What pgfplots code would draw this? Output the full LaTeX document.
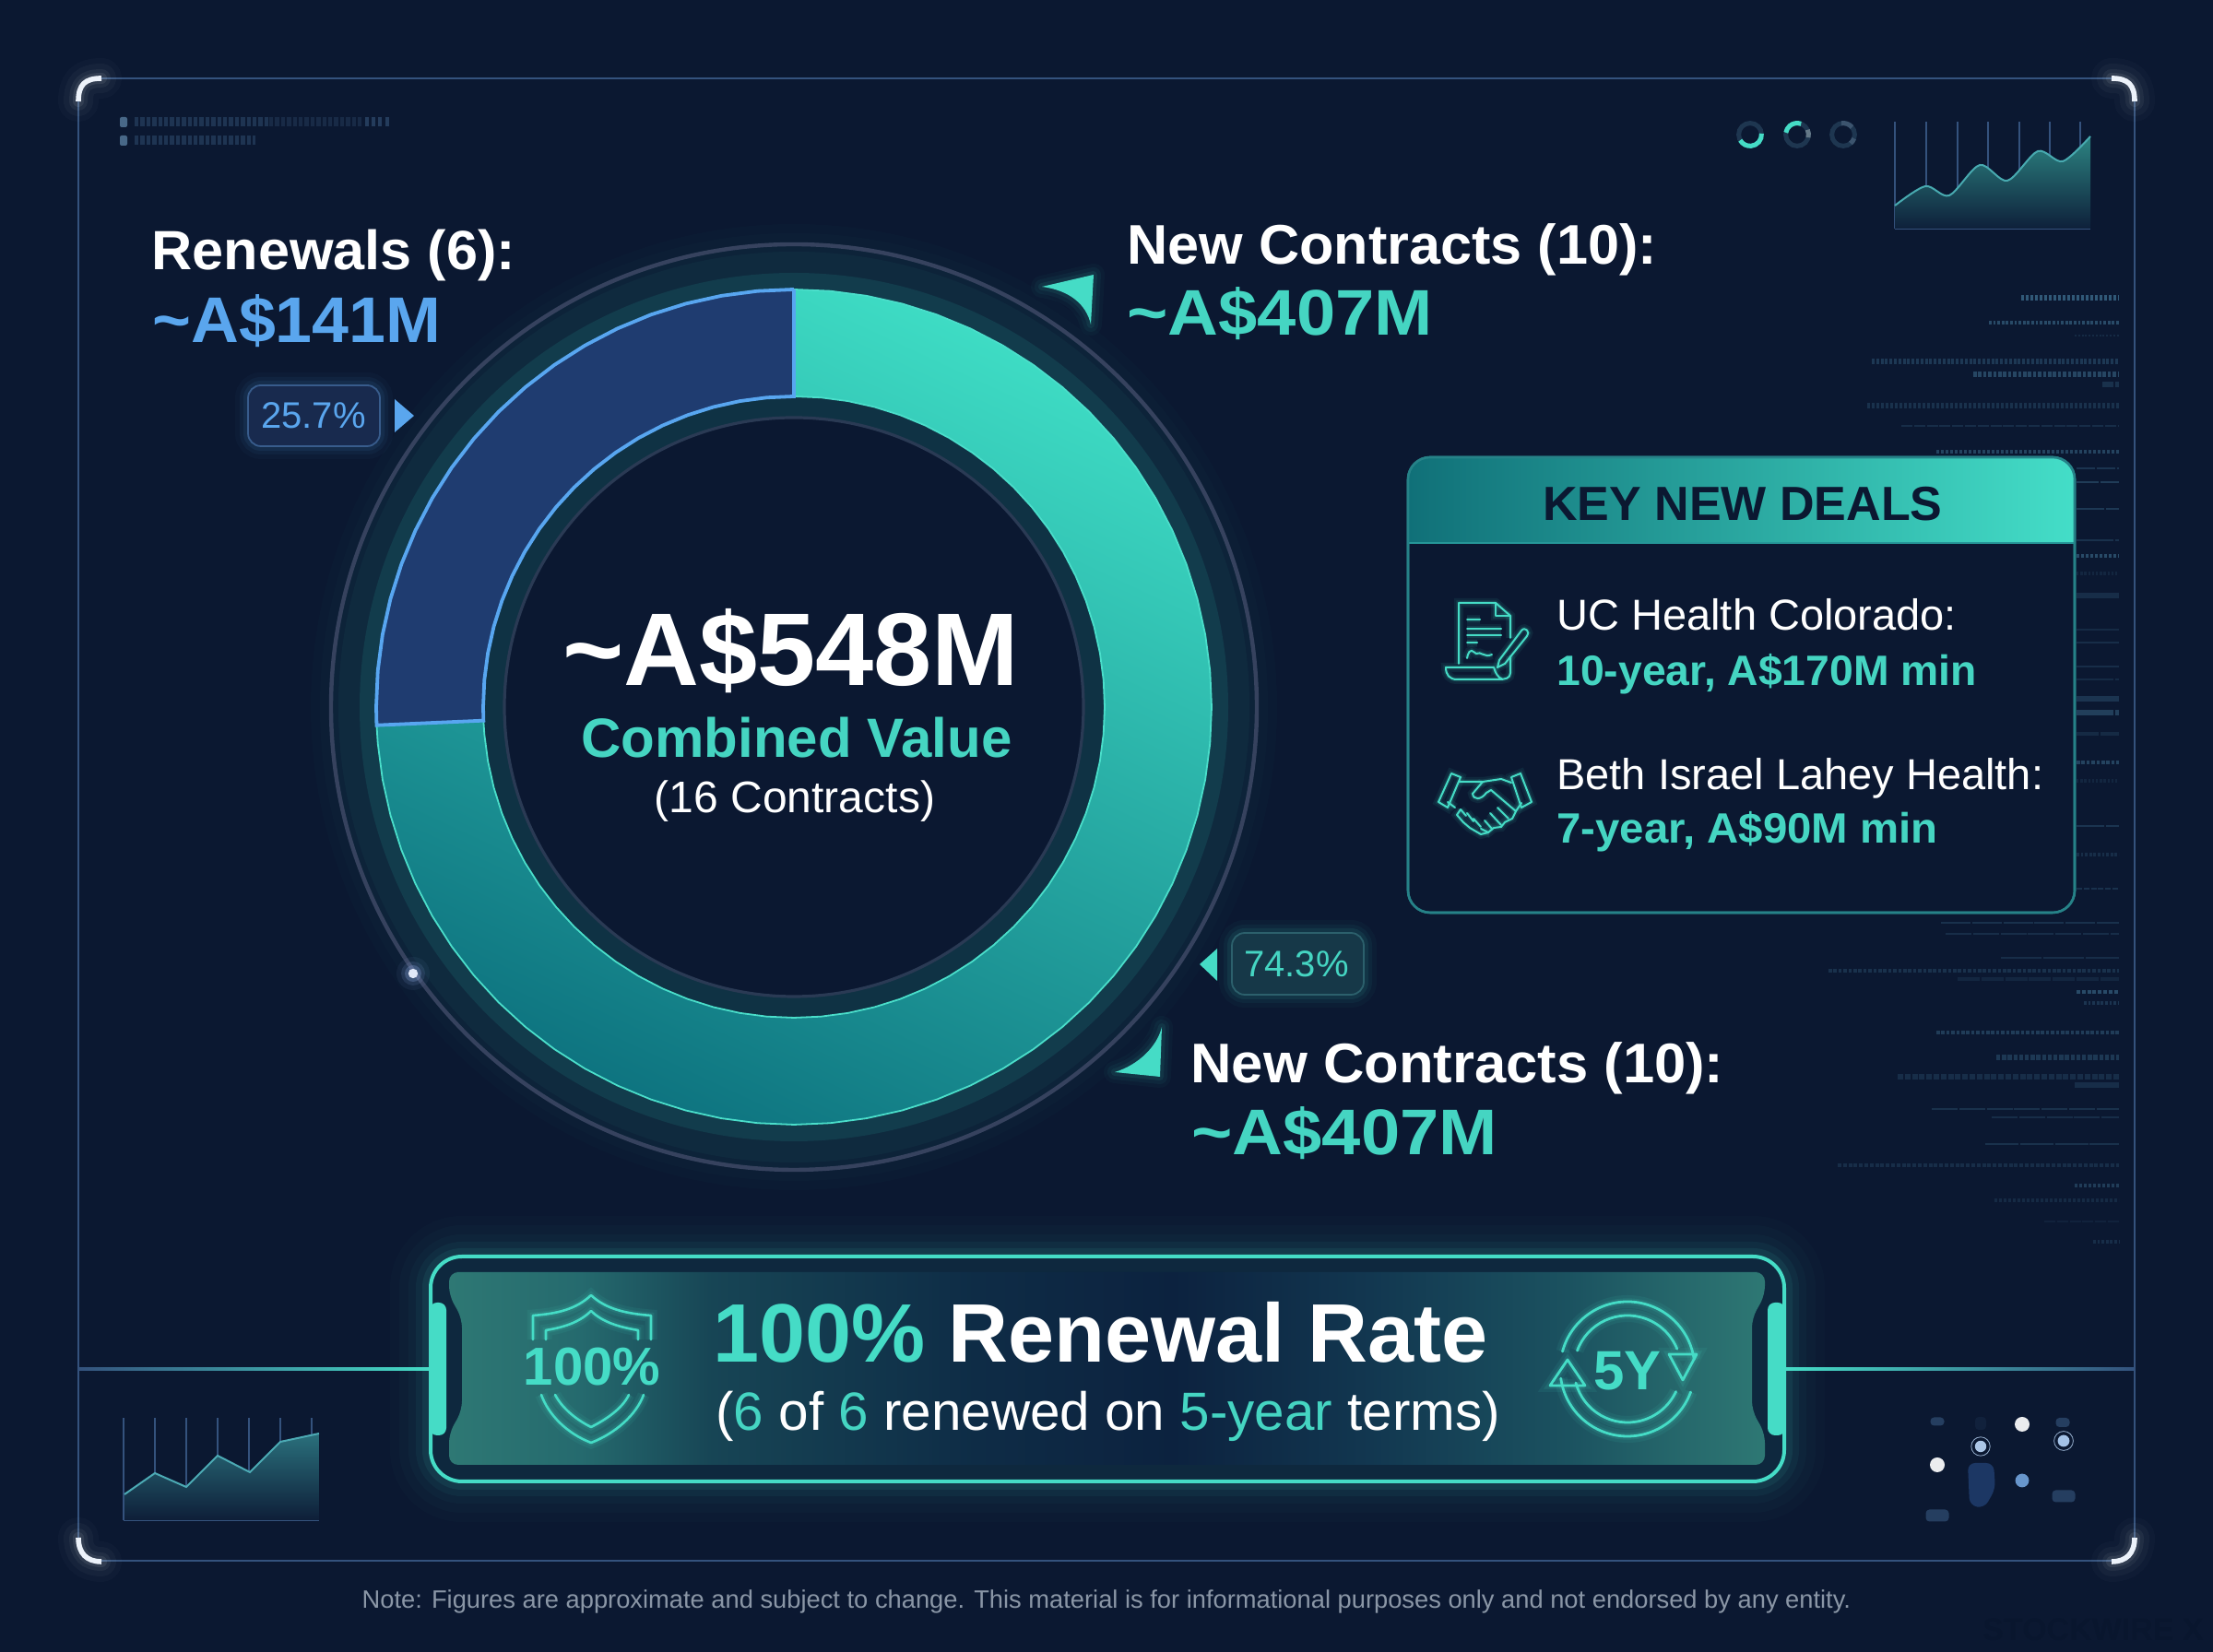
\documentclass[border=0pt]{standalone}
\usepackage{fontspec}
\setmainfont{Liberation Sans}
\usepackage{pgfplots}
\pgfplotsset{compat=1.18}
\definecolor{bg}{HTML}{0B1831}
\definecolor{tealA}{HTML}{45DCC6}
\definecolor{tealT}{HTML}{45D5C2}
\definecolor{blueT}{HTML}{5AA6EE}
\definecolor{frameC}{HTML}{34527D}
\definecolor{noiseC}{HTML}{35607F}
\definecolor{bA}{HTML}{2E7874}
\definecolor{bB}{HTML}{256A6E}
\definecolor{bC}{HTML}{174555}
\definecolor{bD}{HTML}{0E2C46}
\definecolor{bE}{HTML}{0C223F}
\definecolor{bF}{HTML}{123750}
\definecolor{bG}{HTML}{1B5260}
\pgfdeclarehorizontalshading{bannerfill}{100bp}{color(0bp)=(bA);color(25bp)=(bA);color(30bp)=(bB);color(35bp)=(bC);color(45bp)=(bD);color(52.5bp)=(bE);color(60bp)=(bF);color(67.5bp)=(bG);color(75bp)=(bA);color(100bp)=(bA)}
\newcommand{\TX}[6]{\node[anchor=base #4,inner sep=0pt,text=#5,font=\fontsize{#3pt}{#3pt}\selectfont] at (#1,#2) {#6};}
\tikzset{neon/.style={draw=tealA,line width=#1,line join=round,line cap=round,
  preaction={draw=tealA,line width=#1*5,opacity=.08},
  preaction={draw=tealA,line width=#1*2.6,opacity=.12}}}
\begin{document}
\begin{tikzpicture}
\path[use as bounding box] (0,0) rectangle (1200pt,896pt);
\fill[bg] (0,0) rectangle (1200pt,896pt);
\begin{scope}[x=.5pt,y=-.5pt,yshift=896pt]
% rings around the donut
\foreach \w/\o in {44/.015,34/.02,24/.03,14/.04}
  \draw[tealA,opacity=\o,line width=\w pt] (861,767) circle[radius=240pt];
\draw[color={rgb,255:red,54;green,66;blue,94},line width=2.2pt] (861,767) circle[radius=251pt];
\draw[color={rgb,255:red,18;green,60;blue,76},line width=9pt] (861,767) circle[radius=231pt];
\draw[color={rgb,255:red,15;green,50;blue,68},line width=11pt] (861,767) circle[radius=162.5pt];
\draw[color={rgb,255:red,42;green,58;blue,84},line width=1.6pt] (861,767) circle[radius=157pt];
\end{scope}
% donut: 25.7 % renewals, 74.3 % new contracts, drawn in polar data coordinates
\begin{axis}[at={(0pt,0pt)},anchor=south west,scale only axis,width=1200pt,height=896pt,
  xmin=-861,xmax=1539,ymin=-1025,ymax=767,hide axis,clip=false]
\addplot[data cs=polar,draw={rgb,255:red,74;green,222;blue,202},line width=.9pt,
  shading=axis,top color={rgb,255:red,62;green,220;blue,196},middle color={rgb,255:red,38;green,186;blue,176},bottom color={rgb,255:red,14;green,116;blue,128},shading angle=-25]
coordinates {(90,453)(85,453)(80,453)(75,453)(70,453)(65,453)(60,453)(55,453)(50,453)(45,453)(40,453)(35,453)(30,453)(25,453)(20,453)(15,453)(10,453)(5,453)(0,453)(-5,453)(-10,453)(-15,453)(-20,453)(-25,453)(-30,453)(-35,453)(-40,453)(-45,453)(-50,453)(-55,453)(-60,453)(-65,453)(-70,453)(-75,453)(-80,453)(-85,453)(-90,453)(-95,453)(-100,453)(-105,453)(-110,453)(-115,453)(-120,453)(-125,453)(-130,453)(-135,453)(-140,453)(-145,453)(-150,453)(-155,453)(-160,453)(-165,453)(-170,453)(-175,453)(-177.5,453)
(-177.5,337)(-175,337)(-170,337)(-165,337)(-160,337)(-155,337)(-150,337)(-145,337)(-140,337)(-135,337)(-130,337)(-125,337)(-120,337)(-115,337)(-110,337)(-105,337)(-100,337)(-95,337)(-90,337)(-85,337)(-80,337)(-75,337)(-70,337)(-65,337)(-60,337)(-55,337)(-50,337)(-45,337)(-40,337)(-35,337)(-30,337)(-25,337)(-20,337)(-15,337)(-10,337)(-5,337)(0,337)(5,337)(10,337)(15,337)(20,337)(25,337)(30,337)(35,337)(40,337)(45,337)(50,337)(55,337)(60,337)(65,337)(70,337)(75,337)(80,337)(85,337)(90,337)(90,453)};
\addplot[data cs=polar,draw={rgb,255:red,88;green,166;blue,240},line width=1.9pt,
  fill={rgb,255:red,31;green,60;blue,112}]
coordinates {(90,453)(95,453)(100,453)(105,453)(110,453)(115,453)(120,453)(125,453)(130,453)(135,453)(140,453)(145,453)(150,453)(155,453)(160,453)(165,453)(170,453)(175,453)(180,453)(182.5,453)
(182.5,337)(180,337)(175,337)(170,337)(165,337)(160,337)(155,337)(150,337)(145,337)(140,337)(135,337)(130,337)(125,337)(120,337)(115,337)(110,337)(105,337)(100,337)(95,337)(90,337)(90,453)};
\end{axis}
\begin{scope}[x=.5pt,y=-.5pt,yshift=896pt]
% frame
\draw[frameC,line width=1.3pt] (110,85) -- (2290,85);
\draw[frameC,line width=1.3pt] (85,110) -- (85,1668);
\draw[frameC,line width=1.3pt] (2315,110) -- (2315,1668);
\draw[frameC,line width=1.3pt] (110,1693) -- (2290,1693);
\shade[left color=frameC,middle color=frameC,right color=tealA] (85,1483.5) rectangle (467,1486.5);
\shade[left color=tealA,middle color=frameC,right color=frameC] (1935,1483.5) rectangle (2315,1486.5);
\foreach \a/\b/\c/\d/\e/\f/\g/\h in {85/110/85/92/92/85/110/85, 2315/110/2315/92/2308/85/2290/85, 85/1668/85/1685/94/1694/110/1694, 2315/1668/2315/1685/2306/1694/2290/1694}{
  \foreach \w/\o in {22/.02,16/.03,10/.05,6/.08}
    \draw[white,opacity=\o,line width=\w pt,line cap=round] (\a,\b) .. controls (\c,\d) and (\e,\f) .. (\g,\h);
  \draw[color={rgb,255:red,236;green,242;blue,250},line width=2.8pt] (\a,\b) .. controls (\c,\d) and (\e,\f) .. (\g,\h);
}
% top left dashes
\fill[color={rgb,255:red,72;green,104;blue,136},rounded corners=1pt] (130,127) rectangle (138,138);
\fill[color={rgb,255:red,72;green,104;blue,136},rounded corners=1pt] (130,147) rectangle (138,158);
\draw[color={rgb,255:red,30;green,52;blue,82},line width=5pt,dash pattern=on 2.2pt off 1pt] (146,132) -- (292,132);
\draw[color={rgb,255:red,24;green,42;blue,70},line width=5pt,dash pattern=on 2.2pt off 1pt] (292,132) -- (392,132);
\draw[color={rgb,255:red,36;green,60;blue,92},line width=5pt,dash pattern=on 2pt off 1.6pt] (396,132) -- (423,132);
\draw[color={rgb,255:red,30;green,52;blue,82},line width=5pt,dash pattern=on 2.2pt off 1pt] (146,152) -- (277,152);
% small rings
\foreach \x in {1898,1949,1999}
  \draw[color={rgb,255:red,30;green,54;blue,80},line width=2.5pt] (\x,146) circle[radius=6.2pt];
\begin{scope}[shift={(1898,146)}]\draw[tealA,line width=2.5pt] (5:6.2pt) arc (5:-150:6.2pt);\end{scope}
\begin{scope}[shift={(1949,146)}]\draw[tealA,line width=2.5pt] (70:6.2pt) arc (70:170:6.2pt);
\draw[color={rgb,255:red,100;green,120;blue,135},line width=2.5pt] (25:6.2pt) arc (25:-15:6.2pt);\end{scope}
\begin{scope}[shift={(1999,146)}]\draw[color={rgb,255:red,60;green,84;blue,110},line width=2.5pt] (100:6.2pt) arc (100:40:6.2pt);\draw[color={rgb,255:red,60;green,84;blue,110},line width=2.5pt] (-20:6.2pt) arc (-20:-50:6.2pt);\end{scope}
% right side data noise
\foreach \y/\a/\o/\d/\w in {323/2192/.9/1.6/3,350/2157/.7/1.4/2.5,364/2250/.25/1/1.5,392/2030/.45/1.5/3,406/2140/.65/1.8/3.5,417/2280/.35/6/4,440/2025/.35/1.6/3,462/2062/.3/6/1.5,490/2100/.6/1.6/2.5,508/2252/.4/10/1,523/2252/.5/12/1,552/2252/.45/15/1,586/2252/.35/20/1.5,603/2252/.7/1.6/2.5,622/2252/.2/1.2/2,646/2252/.3/25/3,683/2252/.25/30/1,697/2252/.3/25/1.5,723/2252/.3/30/1,737/2252/.25/20/1.5,758/2252/.4/25/3,773/2252/.55/20/3,796/2252/.25/12/2,827/2252/.6/1.8/2.5,847/2252/.2/1.2/2,896/2252/.4/15/1,927/2252/.3/1.4/2.5,964/2252/.35/3/1.5,1001/2105/.35/16/1.5,1013/2110/.3/14/1.5,1039/2170/.3/22/1,1053/1983/.35/1.8/2.5,1062/2123/.2/12/2.5,1076/2252/.7/2/2.5,1088/2260/.4/1.4/2,1120/2100/.5/1.8/2.5,1147/2165/.45/2.2/3,1168/2058/.3/3/3,1177/2250/.3/24/3,1203/2095/.35/14/1.5,1212/2160/.3/14/1.5,1241/2153/.35/18/1,1264/1993/.3/2/2.5,1286/2250/.5/1.6/2.5,1302/2163/.25/1.6/2,1325/2217/.15/6/1,1347/2270/.3/1.4/2}
  \draw[noiseC,opacity=\o,line width=\w*.85pt,dash pattern=on \d pt off .9pt] (\a,\y) -- (2298,\y);
% panel
\draw[rounded corners=12pt,draw={rgb,255:red,38;green,122;blue,130},line width=1.3pt,fill=bg] (1527,496) rectangle (2250,990);
\begin{scope}
\clip[rounded corners=12pt] (1527,496) rectangle (2250,990);
\shade[left color={rgb,255:red,16;green,112;blue,120},middle color={rgb,255:red,32;green,160;blue,158},right color={rgb,255:red,68;green,222;blue,200}] (1527,496) rectangle (2250,589);
\draw[color={rgb,255:red,38;green,150;blue,152},line width=1.4pt] (1527,589) -- (2250,589);
\end{scope}
\draw[rounded corners=12pt,draw={rgb,255:red,38;green,130;blue,136},line width=1.3pt] (1527,496) rectangle (2250,990);
\TX{1890}{565}{26}{}{bg}{\bfseries KEY NEW DEALS}
\TX{1688}{684}{23.5}{west}{white}{UC Health Colorado:}
\TX{1688}{744}{23}{west}{tealT}{\scalebox{1.007}[1]{\bfseries 10-year, A\$170M min}}
\TX{1688}{857}{23.5}{west}{white}{Beth Israel Lahey Health:}
\TX{1688}{915}{23}{west}{tealT}{\scalebox{1.03}[1]{\bfseries 7-year, A\$90M min}}
% document icon
\draw[neon=1pt] (1582,720) -- (1582,654) -- (1622,654) -- (1638,668) -- (1638,692);
\draw[neon=1pt] (1622,654) -- (1622,668) -- (1638,668);
\draw[neon=1pt] (1591,672) -- (1605,672) (1591,682) -- (1628,682) (1591,689) -- (1628,689) (1591,697) -- (1602,697);
\draw[neon=1pt] (1591,714) .. controls (1594,700) and (1598,708) .. (1601,709) .. controls (1606,706) and (1610,714) .. (1618,710);
\draw[neon=1pt] (1638,712) -- (1638,730) .. controls (1638,736) and (1632,737) .. (1625,737) -- (1580,737) .. controls (1572,737) and (1568,732) .. (1568,724) -- (1620,724) .. controls (1622,730) and (1624,735) .. (1630,737);
\draw[neon=1pt] (1626,716) -- (1650,684) .. controls (1654,679) and (1660,686) .. (1656,690) -- (1632,720) -- (1624,724) -- cycle;
% handshake icon
\draw[neon=1pt] (1574,839) -- (1584,843) -- (1570,876) -- (1560,870) -- cycle;
\draw[neon=1pt] (1639,843) -- (1649,839) -- (1661,870) -- (1650,876) -- cycle;
\draw[neon=1pt] (1582,848) -- (1608,848) -- (1628,845) -- (1639,849);
\draw[neon=1pt] (1608,848) -- (1597,861) .. controls (1598,868) and (1606,868) .. (1612,860) -- (1617,857) -- (1644,880);
\draw[neon=1pt] (1570,870) -- (1578,876) (1650,871) -- (1644,880) -- (1640,888) -- (1632,892) -- (1628,897) -- (1620,898) -- (1614,903) -- (1606,899);
\draw[neon=1pt] (1584,878) -- (1590,885) (1591,882) -- (1598,891) (1598,888) -- (1606,897);
\draw[neon=1pt] (1584,878) -- (1580,884) -- (1587,892) -- (1594,898) -- (1606,905) -- (1614,903);
\draw[neon=1pt] (1624,876) -- (1636,888) (1616,882) -- (1628,895) (1610,890) -- (1618,899);
% labels
\TX{164}{293}{30}{west}{white}{\scalebox{1.02}[1]{\bfseries Renewals (6):}}
\TX{165}{372}{35}{west}{blueT}{\scalebox{1.025}[1]{\bfseries \textasciitilde A\$141M}}
\TX{1222}{287}{30.3}{west}{white}{\scalebox{1.01}[1]{\bfseries New Contracts (10):}}
\TX{1222}{364}{35}{west}{tealT}{\scalebox{1.085}[1]{\bfseries \textasciitilde A\$407M}}
\TX{1291}{1175}{30.3}{west}{white}{\scalebox{1.016}[1]{\bfseries New Contracts (10):}}
\TX{1292}{1253}{35}{west}{tealT}{\scalebox{1.085}[1]{\bfseries \textasciitilde A\$407M}}
\TX{858}{744}{56}{}{white}{\scalebox{1.013}[1]{\bfseries \textasciitilde A\$548M}}
\TX{864}{822}{30}{}{tealT}{\bfseries Combined Value}
\TX{862}{882}{24}{}{white}{(16 Contracts)}
% badges
\foreach \w/\o in {14/.03,9/.05,5/.08}
  \draw[blueT,opacity=\o,line width=\w pt,rounded corners=7pt] (269,418) rectangle (412,484);
\draw[rounded corners=7pt,draw={rgb,255:red,56;green,92;blue,140},fill={rgb,255:red,24;green,42;blue,78},line width=.9pt] (269,418) rectangle (412,484);
\TX{340}{465}{20}{}{blueT}{25.7\%}
\fill[blueT] (428,433) -- (449,451) -- (428,469) -- cycle;
\foreach \w/\o in {14/.03,9/.05,5/.08}
  \draw[tealA,opacity=\o,line width=\w pt,rounded corners=7pt] (1336,1012) rectangle (1479,1079);
\draw[rounded corners=7pt,draw={rgb,255:red,44;green,96;blue,108},fill={rgb,255:red,22;green,56;blue,72},line width=.9pt] (1336,1012) rectangle (1479,1079);
\TX{1406}{1060}{20}{}{tealT}{74.3\%}
\fill[tealA] (1301,1046) -- (1320,1029) -- (1320,1064) -- cycle;
% pointers
\foreach \w/\o in {12/.03,8/.05,4/.08}{
  \draw[tealA,opacity=\o,line width=\w pt,line join=round] (1130,311) -- (1186,298) -- (1183,352) .. controls (1178,330) and (1160,315) .. cycle;
  \draw[tealA,opacity=\o,line width=\w pt,line join=round] (1209,1163) .. controls (1235,1155) and (1255,1135) .. (1260,1114) -- (1258,1168) -- cycle;}
\fill[tealA] (1130,311) -- (1186,298) -- (1183,352) .. controls (1178,330) and (1160,315) .. cycle;
\fill[tealA] (1209,1163) .. controls (1235,1155) and (1255,1135) .. (1260,1114) -- (1258,1168) -- cycle;
% orbit dot
\foreach \r/\o in {9/.06,6.5/.12,4.5/.25} \fill[color={rgb,255:red,150;green,180;blue,240},opacity=\o] (448,1056) circle[radius=\r pt];
\fill[color={rgb,255:red,225;green,232;blue,248}] (448,1056) circle[radius=2.6pt];
% banner
\foreach \w/\o in {44/.02,34/.025,24/.03,16/.05,9/.08}
  \draw[tealA,opacity=\o,line width=\w pt,rounded corners=17pt] (467,1363) rectangle (1935,1607);
\draw[rounded corners=17pt,fill={rgb,255:red,14;green,40;blue,62},draw=tealA,line width=2pt] (467,1363) rectangle (1935,1607);
\path[rounded corners=5pt,shading=bannerfill,shading angle=0] (505,1380) -- (1896,1380) -- (1914,1380) -- (1914,1405) -- (1900,1430) -- (1900,1530) -- (1914,1555) -- (1914,1589) -- (487,1589) -- (487,1555) -- (501,1530) -- (501,1430) -- (487,1405) -- (487,1380) -- cycle;
\fill[tealA,rounded corners=4pt] (466,1413) rectangle (484,1557);
\fill[tealA,rounded corners=4pt] (1917,1413) rectangle (1936,1557);
\node[anchor=base west,inner sep=0pt,font=\fontsize{45pt}{45pt}\selectfont\bfseries] at (773,1478) {\textcolor{tealA}{100\%} \textcolor{white}{Renewal Rate}};
\node[anchor=base west,inner sep=0pt,font=\fontsize{29.2pt}{29.2pt}\selectfont,text=white] at (776,1552) {(\textcolor{tealT}{6} of \textcolor{tealT}{6} renewed on \textcolor{tealT}{5-year} terms)};
% shield
\draw[neon=1.3pt] (578,1453) -- (578,1427) .. controls (605,1425) and (625,1420) .. (641,1405) .. controls (657,1420) and (679,1425) .. (706,1427) -- (706,1453);
\draw[neon=1.3pt] (592,1453) -- (592,1443) .. controls (610,1440) and (628,1435) .. (641,1422) .. controls (654,1435) and (674,1440) .. (692,1443) -- (692,1453);
\draw[neon=1.3pt] (587,1513) .. controls (595,1535) and (615,1555) .. (641,1565) .. controls (667,1555) and (690,1535) .. (698,1513);
\draw[neon=1.3pt] (602,1513) .. controls (610,1528) and (625,1540) .. (641,1548) .. controls (657,1540) and (675,1528) .. (682,1513);
\TX{642}{1503}{29}{}{tealA}{\bfseries 100\%}
% 5Y
\begin{scope}[shift={(1765,1485)}]
\draw[neon=1.4pt] (165:36.5pt) arc (165:8:36.5pt);
\draw[neon=1.4pt] (160:29pt) arc (160:22:29pt);
\draw[neon=1.4pt] (-172:36.5pt) arc (-172:-20:36.5pt);
\draw[neon=1.4pt] (-165:29pt) arc (-165:-25:29pt);
\draw[neon=1.4pt] (60,12) -- (75,-16) -- (45,-16) -- cycle;
\draw[neon=1.4pt] (-65,-10) -- (-84,18) -- (-46,18) -- cycle;
\end{scope}
\TX{1765}{1508}{30}{}{tealA}{\bfseries 5Y}
% bottom right widgets
\foreach \x/\y/\r/\c in {2193/1545/4/white,2101/1589/4/white}
  \fill[color=\c,opacity=.92] (\x,\y) circle[radius=\r pt];
\fill[color={rgb,255:red,172;green,198;blue,230}] (2148,1569) circle[radius=3.1pt];
\draw[color={rgb,255:red,150;green,175;blue,205},line width=.4pt] (2148,1569) circle[radius=5.1pt];
\fill[color={rgb,255:red,165;green,195;blue,232}] (2238,1563) circle[radius=3.2pt];
\draw[color={rgb,255:red,150;green,175;blue,205},line width=.4pt] (2238,1563) circle[radius=5.2pt];
\fill[color={rgb,255:red,104;green,150;blue,204}] (2193,1606) circle[radius=3.7pt];
\foreach \x/\y/\w/\h/\o in {2101/1542/7.5/4.5/.8,2237/1543/7.5/5/.8,2238/1623/12.5/6.5/.8,2101/1644/12.5/6.5/.8,2148/1544/6/7/.2}
  \fill[color={rgb,255:red,44;green,72;blue,108},opacity=\o,rounded corners=2pt] (\x-\w,\y-\h) rectangle (\x+\w,\y+\h);
\fill[color={rgb,255:red,28;green,55;blue,100},rounded corners=4pt] (2134,1587) -- (2162,1587) -- (2164,1615) -- (2152,1636) -- (2136,1633) -- cycle;
% note and mark
\TX{1200}{1745}{13.65}{}{{rgb,255:red,138;green,150;blue,166}}{Note: Figures are approximate and subject to change. This material is for informational purposes only and not endorsed by any entity.}
\TX{2150}{1780}{17}{west}{{rgb,255:red,9;green,22;blue,46}}{\bfseries STOCKWIRE X}
\end{scope}
% top right spark chart
\begin{axis}[at={(1027.5pt,772pt)},anchor=south west,scale only axis,width=106pt,height=58pt,
  xmin=0,xmax=212,ymin=0,ymax=116,clip=false,axis lines=left,axis line style={-,color=frameC,line width=.8pt},
  xtick={0,34,68,101,135,168,201},xticklabels={},ytick=\empty,major tick length=0pt,xmajorgrids,
  grid style={color=frameC,line width=.6pt}]
\addplot[smooth,draw=none,top color={rgb,255:red,44;green,132;blue,130},bottom color={rgb,255:red,14;green,32;blue,58}] coordinates {(0,25)(33,46)(59,36)(92,69)(122,52)(155,84)(182,73)(212,100)} \closedcycle;
\addplot[smooth,color={rgb,255:red,72;green,170;blue,176},line width=1pt] coordinates {(0,25)(33,46)(59,36)(92,69)(122,52)(155,84)(182,73)(212,100)};
\end{axis}
% bottom left spark chart
\begin{axis}[at={(67pt,71.5pt)},anchor=south west,scale only axis,width=106pt,height=55.5pt,
  xmin=0,xmax=212,ymin=0,ymax=111,clip=false,axis lines=left,axis line style={-,color=frameC,line width=.8pt},
  xtick={0,34,68,102,136,170,204},xticklabels={},ytick=\empty,major tick length=0pt,xmajorgrids,
  grid style={color=frameC,line width=.6pt}]
\addplot[draw=none,top color={rgb,255:red,42;green,112;blue,124},bottom color={rgb,255:red,14;green,30;blue,56}] coordinates {(1,28)(34,51)(68,36)(102,70)(137,52)(170,85)(212,94)} \closedcycle;
\addplot[color={rgb,255:red,76;green,170;blue,180},line width=1pt] coordinates {(1,28)(34,51)(68,36)(102,70)(137,52)(170,85)(212,94)};
\end{axis}
\end{tikzpicture}
\end{document}
